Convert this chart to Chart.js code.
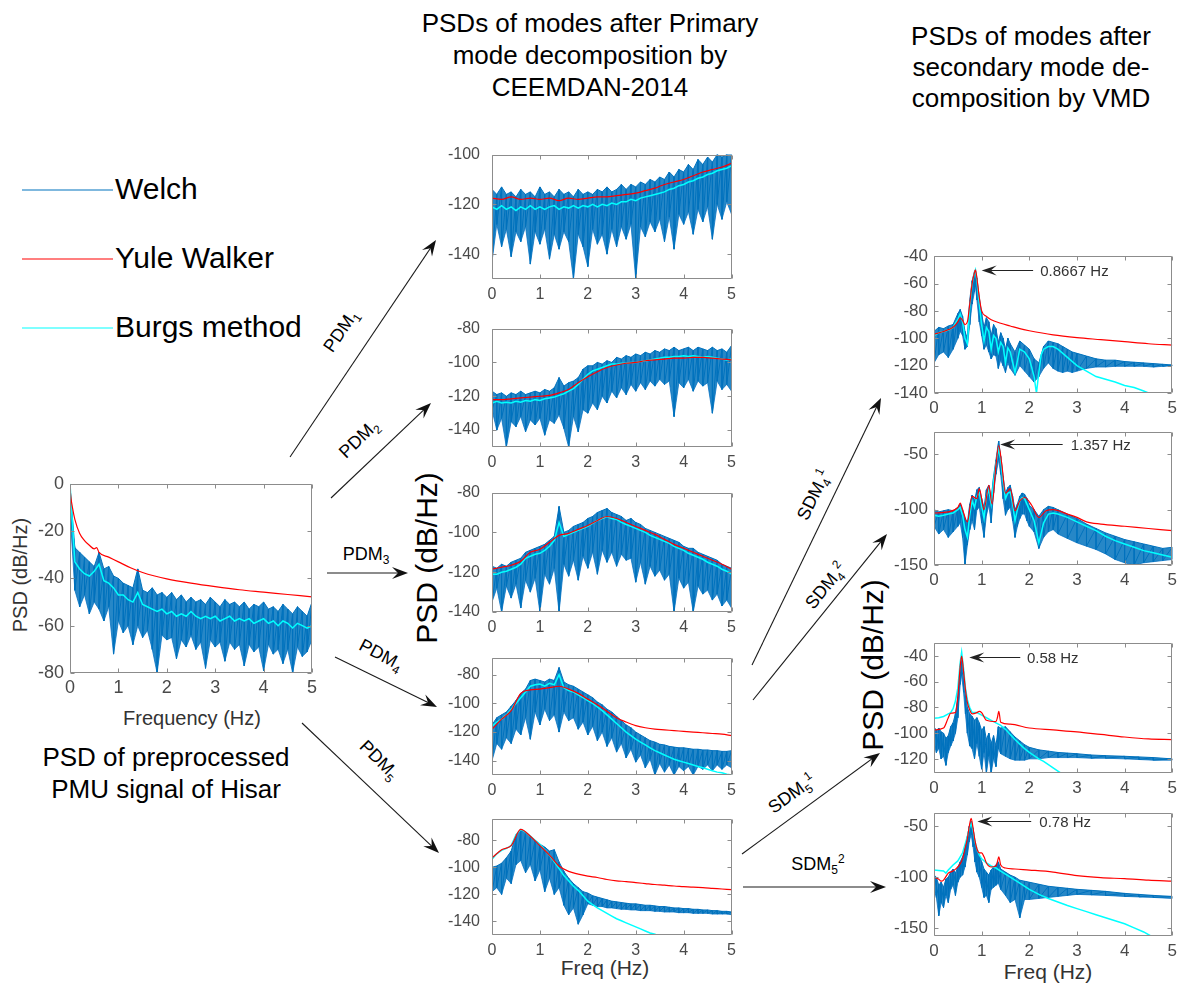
<!DOCTYPE html>
<html>
<head>
<meta charset="utf-8">
<script src="https://cdn.jsdelivr.net/npm/chart.js@4.4.1/dist/chart.umd.min.js"></script>
<style>
  body { margin: 0; width: 1181px; height: 983px; background: #fff; position: relative; overflow: hidden;
         font-family: "Liberation Sans", Arial, sans-serif; color: #000; }
  canvas { position: absolute; }
  .t { position: absolute; white-space: nowrap; }
  .c { text-align: center; }
  .rot { transform: translate(-50%, -50%) rotate(-90deg); }
  .lbl { position: absolute; font-size: 18px; white-space: nowrap; transform-origin: center; }
  .lbl sub, .lbl sup { font-size: 12px; line-height: 0; }
  svg { position: absolute; left: 0; top: 0; }
</style>
</head>
<body>

<div class="t c" style="left:390px;top:7px;width:400px;font-size:26px;line-height:32px;">PSDs of modes after Primary<br>mode decomposition by<br>CEEMDAN-2014</div>
<div class="t c" style="left:831px;top:21px;width:400px;font-size:26px;line-height:31px;">PSDs of modes after<br>secondary mode de-<br>composition by VMD</div>
<div class="t c" style="left:16px;top:741px;width:300px;font-size:26px;line-height:32px;">PSD of preprocessed<br>PMU signal of Hisar</div>

<div class="t" style="left:115px;top:172px;font-size:30px;line-height:34px;">Welch</div>
<div class="t" style="left:115px;top:241px;font-size:30px;line-height:34px;">Yule Walker</div>
<div class="t" style="left:115px;top:310px;font-size:30px;line-height:34px;">Burgs method</div>

<div class="t c" style="left:92px;top:707px;width:200px;font-size:20px;line-height:22px;color:#333;">Frequency (Hz)</div>
<div class="t rot" style="left:20px;top:575px;font-size:20px;color:#333;">PSD (dB/Hz)</div>
<div class="t rot" style="left:427px;top:558px;font-size:30px;">PSD (dB/Hz)</div>
<div class="t rot" style="left:873px;top:665px;font-size:30px;">PSD (dB/Hz)</div>
<div class="t c" style="left:505px;top:956px;width:200px;font-size:21px;line-height:24px;color:#333;">Freq (Hz)</div>
<div class="t c" style="left:948px;top:960px;width:200px;font-size:21px;line-height:24px;color:#333;">Freq (Hz)</div>

<svg id="overlay" width="1181" height="983"></svg>

<script>
// ---- data ----
const freqTicks = [0, 1, 2, 3, 4, 5];
const freqFine = [0,0.1,0.2,0.3,0.4,0.5,0.6,0.7,0.8,0.9,1.0,1.1,1.2,1.3,1.4,1.5,1.6,1.7,1.8,1.9,2.0,2.1,2.2,2.3,2.4,2.5,
                  2.6,2.7,2.8,2.9,3.0,3.1,3.2,3.3,3.4,3.5,3.6,3.7,3.8,3.9,4.0,4.1,4.2,4.3,4.4,4.5,4.6,4.7,4.8,4.9,5.0];
const freqCoarse = [0,0.2,0.4,0.6,0.8,1.0,1.2,1.4,1.6,1.8,2.0,2.2,2.4,2.6,2.8,3.0,3.2,3.4,3.6,3.8,4.0,4.2,4.4,4.6,4.8,5.0];

// preprocessed PMU signal
const leftYTicks = [-80, -60, -40, -20, 0];
const leftWelchHi = [-1, -27, -29, -31, -33, -35, -29, -36, -35, -39,
  -40, -42, -43, -44, -36, -45, -46, -44, -47, -46,
  -48, -46, -49, -47, -50, -48, -50, -49, -51, -48,
  -50, -52, -49, -51, -50, -52, -50, -53, -51, -52,
  -50, -53, -52, -54, -51, -53, -55, -52, -54, -56, -50];
const leftWelchLo = [-12, -45, -52, -47, -55, -50, -53, -58, -52, -72,
  -58, -63, -60, -68, -60, -65, -62, -70, -80, -64,
  -66, -65, -74, -66, -69, -64, -70, -67, -78, -66,
  -69, -67, -75, -67, -70, -68, -77, -68, -71, -69,
  -79, -68, -72, -70, -76, -70, -80, -69, -73, -71, -66];
const leftBurg = [0, -33, -36, -38, -39, -37, -34, -41, -42, -44,
  -47, -47, -49, -50, -46, -51, -52, -53, -54, -53,
  -55, -54, -56, -55, -56, -54, -56, -57, -56, -57,
  -56, -58, -57, -56, -58, -57, -58, -57, -59, -58,
  -57, -59, -58, -60, -58, -59, -61, -59, -60, -61, -60];
const leftYuleF = [0, 0.02, 0.05, 0.1, 0.2, 0.3, 0.4, 0.5, 0.55, 0.6, 0.8, 1, 1.25, 1.5, 1.75, 2, 2.5, 3, 3.5, 4, 4.5, 5];
const leftYule = [-2, -6, -10, -15, -21, -24, -26, -27.5, -27, -29, -31, -33, -35.5, -37.5, -39, -40.2, -42, -43.5, -44.8, -45.8, -46.8, -47.8];

// PDM1
const m1YTicks = [-140, -120, -100];
const m1WelchHi = [-114, -116, -113, -116, -115, -117, -114, -116, -115, -117,
  -113, -116, -115, -117, -114, -116, -115, -117, -114, -116,
  -115, -116, -114, -115, -113, -115, -114, -112, -114, -112,
  -113, -111, -112, -110, -111, -109, -110, -107, -109, -106,
  -107, -104, -106, -102, -104, -101, -103, -100, -101, -100, -100];
const m1WelchLo = [-143, -128, -137, -130, -141, -131, -135, -129, -144, -131,
  -136, -130, -142, -132, -138, -131, -135, -150, -132, -137,
  -145, -130, -136, -132, -140, -130, -137, -129, -134, -128,
  -150, -129, -133, -127, -131, -126, -135, -125, -138, -124,
  -128, -123, -132, -122, -127, -121, -134, -120, -126, -119, -124];
const m1Burg = [-121, -122, -120.5, -122, -121, -122.5, -121, -122, -120.5, -122,
  -121, -122, -121, -120.5, -122, -121, -121.5, -120.5, -121.5, -120.5,
  -121, -120, -121, -120, -120.5, -119.5, -120, -119, -119, -118,
  -118.5, -117.5, -117, -116.5, -116, -115.5, -115, -114, -113.5, -112.5,
  -112, -111, -110.5, -109.5, -109, -108, -107.5, -106.5, -106, -105.5, -104.5];
const m1Yule = [-117.5, -118, -117, -118, -117.5, -118, -117.5, -118.5, -117.5, -118,
  -117.5, -117, -117, -116.5, -116, -115.5, -114.5, -113.5, -112, -111,
  -110, -108.5, -107, -106, -105, -103.5];

// PDM2
const m2YTicks = [-140, -120, -100, -80];
const m2WelchHi = [-117, -119, -118, -120, -118, -119, -117, -119, -118, -117,
  -118, -116, -117, -115, -109, -114, -112, -111, -109, -104,
  -102, -102, -100, -101, -99, -100, -97, -98, -96, -97,
  -95, -96, -94, -95, -93, -94, -92, -93, -91, -93,
  -92, -91, -93, -91, -92, -93, -91, -93, -92, -94, -90];
const m2WelchLo = [-128, -140, -133, -150, -135, -138, -132, -141, -134, -137,
  -133, -143, -134, -136, -131, -139, -150, -132, -141, -128,
  -130, -124, -128, -120, -124, -117, -121, -115, -119, -113,
  -117, -112, -116, -111, -114, -110, -113, -111, -132, -112,
  -115, -110, -117, -111, -114, -112, -130, -111, -116, -113, -117];
const m2Burg = [-124, -123, -124, -123.5, -124, -123, -123.5, -122.5, -123, -122,
  -122.5, -121.5, -121, -120.5, -119.5, -118.5, -117, -115.5, -113, -110,
  -107, -105, -104, -103, -102, -101, -101, -100.5, -100.5, -100,
  -100, -99.5, -99, -98.5, -98, -97.5, -97, -97, -96.5, -96.5,
  -96, -96.5, -96, -96.5, -97, -96.5, -97, -97.5, -98, -98.5, -98];
const m2Yule = [-122, -122, -121.5, -121, -120.5, -120, -119.5, -118, -116, -112,
  -108.5, -105.5, -103, -101.5, -100.5, -100, -99, -98.5, -98, -97.5,
  -97.5, -97, -97, -97.5, -98, -98.5];

// PDM3
const m3YTicks = [-140, -120, -100, -80];
const m3WelchHi = [-117, -118, -116, -117, -115, -114, -113, -110, -109, -108,
  -107, -106, -104, -102, -87, -100, -99, -97, -96, -95,
  -93, -92, -90, -89, -88, -90, -91, -92, -94, -93,
  -95, -96, -98, -99, -100, -101, -102, -103, -104, -105,
  -107, -108, -108, -110, -111, -112, -113, -114, -116, -117, -118];
const m3WelchLo = [-135, -128, -140, -127, -133, -126, -138, -124, -130, -123,
  -140, -121, -126, -118, -140, -116, -122, -114, -124, -112,
  -118, -110, -121, -109, -115, -110, -117, -111, -114, -113,
  -125, -115, -126, -117, -122, -119, -124, -121, -140, -123,
  -128, -125, -140, -127, -131, -129, -134, -131, -137, -134, -138];
const m3Burg = [-121, -121, -120, -119.5, -118.5, -117.5, -116, -113, -112, -111,
  -110.5, -109, -107, -104, -95, -102, -101, -100, -99, -98,
  -97, -95.5, -94, -93, -92, -93, -93.5, -95, -96, -97,
  -98, -99, -100, -101.5, -102.5, -103.5, -104.5, -105.5, -107, -108,
  -109, -110.5, -111.5, -112.5, -113.5, -115, -116, -117, -118.5, -119.5, -121];
const m3Yule = [-118.5, -117.5, -116.5, -114.5, -110, -108.5, -105, -101.5, -100.5, -98.5,
  -96.5, -94, -92, -93, -95, -97, -99, -101, -103.5, -106,
  -108, -110, -112, -114, -116, -118.5];

// PDM4
const m4YTicks = [-140, -120, -100, -80];
const m4WelchHi = [-115, -110, -108, -106, -102, -98, -93, -90, -84, -83,
  -84, -85, -83, -84, -75, -85, -87, -88, -90, -92,
  -94, -96, -99, -101, -104, -106, -109, -112, -115, -117,
  -120, -122, -124, -126, -127, -128.5, -129, -130, -130.5, -131,
  -131, -131.5, -132, -132, -132.5, -132.5, -133, -133, -133.5, -133.5, -133];
const m4WelchLo = [-140, -128, -132, -124, -128, -118, -122, -110, -125, -106,
  -115, -104, -112, -108, -120, -106, -112, -110, -118, -113,
  -122, -116, -126, -120, -130, -124, -134, -128, -138, -132,
  -141, -136, -145, -139, -150, -142, -148, -143, -150, -144,
  -147, -144, -150, -144, -146, -143, -147, -143, -146, -143, -145];
const m4Burg = [-116, -113, -111, -108, -104, -100, -96, -92, -88, -87,
  -86.5, -88, -86, -87, -80, -89, -91, -92, -94, -96,
  -98, -100, -102.5, -105, -108, -111, -114, -117, -120, -122.5,
  -125, -127, -129, -131, -133, -134.5, -136, -137.5, -139, -140,
  -141, -142, -143, -144, -145, -146, -147, -148, -148.5, -149.5, -150];
const m4Yule = [-118, -111, -105, -93, -90.5, -90, -89, -88, -90, -93,
  -97, -101, -105.5, -110, -113, -115.5, -117, -118, -118.5, -119,
  -119.5, -120, -120.5, -121, -121.5, -122.5];

// PDM5
const m5YTicks = [-140, -120, -100, -80];
const m5WelchHi = [-100, -99, -97, -93, -88, -76, -73, -74, -77, -80,
  -83, -85, -88, -87, -96, -103, -108, -112, -115, -118,
  -119, -121, -122, -123, -124, -125, -125.5, -126, -126.5, -127,
  -127, -127.5, -128, -128, -128.5, -129, -129, -129.5, -130, -130,
  -130.5, -130.5, -131, -131, -131.5, -131.5, -132, -132, -132.5, -132.5, -133];
const m5WelchLo = [-118, -115, -120, -108, -112, -98, -95, -104, -98, -110,
  -102, -118, -108, -120, -115, -128, -135, -130, -142, -135,
  -127, -128, -129, -129, -130, -130, -130.5, -131, -131, -131.5,
  -131.5, -132, -132, -132, -132.5, -132.5, -133, -133, -133, -133.5,
  -133.5, -133.5, -134, -134, -134, -134, -134.5, -134.5, -134.5, -134.5, -135];
const m5Burg = [-94, -90, -87.5, -86, -84, -76, -72, -74, -77, -80,
  -83, -87, -91, -96, -101, -106, -110, -114, -117, -121,
  -125, -127.5, -130, -132, -134, -136, -138, -139.5, -141, -142.5,
  -144, -145.5, -147, -148.5, -149.5, -151];
const m5Yule = [-93, -87, -84, -72, -77, -84, -91, -99, -103, -105,
  -106.5, -107.5, -109, -110, -110.5, -111.3, -112, -112.7, -113.2, -113.8,
  -114.2, -114.7, -115, -115.5, -116, -116.5];

// SDM4^1
const r1YTicks = [-140, -120, -100, -80, -60, -40];
const r1WelchF = [0, 0.1, 0.2, 0.3, 0.4, 0.5, 0.55, 0.6, 0.65, 0.7,
  0.75, 0.8, 0.85, 0.87, 0.9, 0.95, 1.0, 1.05, 1.1, 1.15,
  1.2, 1.25, 1.3, 1.35, 1.4, 1.45, 1.5, 1.55, 1.6, 1.7,
  1.8, 1.9, 2.0, 2.1, 2.2, 2.3, 2.4, 2.5, 2.6, 2.7,
  2.8, 2.9, 3.0, 3.2, 3.4, 3.6, 3.8, 4.0, 4.2, 4.4, 4.6, 4.8, 5.0];
const r1WelchHi = [-95, -92, -93, -91, -90, -82, -79, -84, -95, -100,
  -72, -58, -51, -50, -56, -70, -82, -92, -85, -88,
  -98, -90, -93, -103, -96, -100, -108, -100, -104, -110,
  -102, -105, -108, -115, -118, -106, -102, -103, -104, -106,
  -108, -110, -111, -113, -115, -116, -116, -117, -117.5, -118, -118.5, -119, -119.5];
const r1WelchLo = [-118, -112, -110, -114, -108, -100, -95, -98, -108, -106,
  -90, -75, -66, -62, -72, -88, -98, -108, -105, -110,
  -115, -112, -113, -122, -116, -120, -125, -118, -122, -127,
  -120, -124, -128, -132, -128, -122, -118, -122, -124, -125,
  -124, -125, -124, -122, -121, -121, -120.5, -120.5, -120.5, -120.5, -121, -120.5, -120];
const r1BurgF = [0, 0.1, 0.2, 0.3, 0.4, 0.5, 0.55, 0.6, 0.65, 0.7,
  0.75, 0.8, 0.85, 0.87, 0.9, 0.95, 1.0, 1.05, 1.1, 1.15,
  1.2, 1.25, 1.3, 1.35, 1.4, 1.45, 1.5, 1.55, 1.6, 1.7,
  1.8, 1.9, 2.0, 2.1, 2.15, 2.2, 2.25, 2.3, 2.4, 2.5,
  2.6, 2.8, 3.0, 3.2, 3.4, 3.6, 3.8, 4.0, 4.2, 4.4, 4.5];
const r1Burg = [-98, -96, -95, -94, -92, -86, -82, -88, -100, -104,
  -78, -60, -52, -50, -58, -75, -90, -102, -92, -95,
  -108, -98, -100, -110, -103, -106, -118, -107, -110, -125,
  -108, -110, -115, -128, -140, -125, -112, -108, -106, -106,
  -108, -114, -120, -124, -128, -130, -132, -134.5, -136, -138.5, -140];
const r1YuleF = [0, 0.2, 0.4, 0.5, 0.55, 0.6, 0.65, 0.7, 0.75, 0.8, 0.85, 0.87, 0.9, 0.95,
  1.0, 1.1, 1.2, 1.4, 1.6, 1.8, 2.0, 2.5, 3.0, 3.5, 4.0, 4.5, 5.0];
const r1Yule = [-97, -95, -92, -88, -85, -87, -90, -88, -75, -60, -52, -50, -56, -70,
  -80, -84, -86.5, -89, -91, -93, -94.5, -97.5, -99.5, -101, -102.5, -104, -105];

// SDM4^2
const r2YTicks = [-150, -100, -50];
const r2F = [0, 0.1, 0.2, 0.3, 0.4, 0.5, 0.55, 0.6, 0.65, 0.7,
  0.75, 0.8, 0.85, 0.9, 0.95, 1.0, 1.05, 1.1, 1.15, 1.2,
  1.25, 1.3, 1.357, 1.4, 1.45, 1.5, 1.55, 1.6, 1.65, 1.7,
  1.75, 1.8, 1.85, 1.9, 1.95, 2.0, 2.1, 2.2, 2.3, 2.4,
  2.5, 2.6, 2.8, 3.0, 3.2, 3.4, 3.6, 3.8, 4.0, 4.2, 4.4, 4.6, 4.8, 5.0];
const r2WelchHi = [-100, -102, -101, -100, -101, -98, -95, -100, -108, -112,
  -95, -87, -92, -82, -80, -90, -98, -82, -78, -90,
  -70, -55, -38, -52, -70, -85, -80, -78, -88, -100,
  -95, -88, -85, -86, -90, -96, -100, -106, -100, -97,
  -98, -100, -104, -108, -113, -117, -121, -124, -127, -129, -131, -133, -135, -134];
const r2WelchLo = [-115, -122, -118, -125, -120, -115, -112, -125, -150, -132,
  -118, -110, -118, -100, -98, -112, -125, -105, -96, -112,
  -85, -68, -55, -68, -90, -105, -100, -98, -110, -125,
  -115, -108, -104, -104, -110, -115, -120, -135, -125, -120,
  -118, -122, -126, -130, -133, -136, -140, -145, -148, -150, -148, -147, -146, -145];
const r2Burg = [-105, -106, -105, -104, -103, -100, -98, -105, -118, -125,
  -105, -92, -98, -88, -85, -97, -108, -88, -82, -95,
  -75, -58, -45, -55, -75, -90, -85, -84, -95, -110,
  -100, -92, -89, -90, -95, -100, -110, -130, -112, -104,
  -103, -104, -107, -111, -115, -119, -124, -128, -131, -134, -137, -139, -141, -143];
const r2YuleF = [0, 0.3, 0.5, 0.55, 0.6, 0.7, 0.8, 0.9, 0.95, 1.05,
  1.15, 1.22, 1.3, 1.357, 1.42, 1.5, 1.6, 1.7, 1.8, 1.9,
  2.05, 2.2, 2.35, 2.5, 2.8, 3.0, 3.2, 3.5, 4.0, 4.5, 5.0];
const r2Yule = [-103, -102, -98, -94, -100, -111, -88, -90, -81, -100,
  -78, -95, -60, -42, -58, -85, -81, -101, -92, -89,
  -96, -107, -101, -100, -104, -107, -111, -113, -115, -117, -119];

// SDM5^1
const r3YTicks = [-120, -100, -80, -60, -40];
const r3WelchF = [0, 0.05, 0.1, 0.15, 0.2, 0.25, 0.3, 0.35, 0.4, 0.45,
  0.5, 0.55, 0.58, 0.62, 0.66, 0.7, 0.75, 0.8, 0.85, 0.9,
  0.95, 1.0, 1.05, 1.1, 1.15, 1.2, 1.25, 1.3, 1.35, 1.4,
  1.5, 1.6, 1.7, 1.8, 1.9, 2.0, 2.2, 2.4, 2.6, 2.8,
  3.0, 3.3, 3.6, 4.0, 4.3, 4.6, 5.0];
const r3WelchHi = [-95, -98, -96, -99, -100, -104, -102, -95, -92, -85,
  -72, -48, -40, -52, -68, -80, -85, -87, -90, -88,
  -92, -98, -95, -105, -100, -108, -102, -110, -95, -96,
  -95, -99, -103, -106, -109, -111, -113, -114, -115, -115.5,
  -116, -117, -117.5, -118, -118.5, -119, -120];
const r3WelchLo = [-108, -115, -112, -120, -118, -125, -115, -110, -106, -100,
  -88, -62, -55, -68, -85, -100, -110, -112, -120, -108,
  -118, -128, -115, -131, -118, -131, -120, -126, -112, -116,
  -118, -120, -121, -121, -121, -120, -120, -119, -119, -119,
  -119, -119.5, -119.5, -120, -120.5, -121, -121];
const r3BurgF = [0, 0.1, 0.2, 0.3, 0.35, 0.4, 0.45, 0.5, 0.55, 0.58,
  0.62, 0.66, 0.7, 0.75, 0.8, 0.9, 1.0, 1.1, 1.2, 1.3,
  1.4, 1.5, 1.6, 1.7, 1.8, 1.9, 2.0, 2.1, 2.2, 2.3,
  2.4, 2.5, 2.6, 2.7];
const r3Burg = [-88.5, -88, -87, -85, -84, -81, -75, -65, -45, -37,
  -50, -65, -74, -80, -84, -84, -86, -88, -90, -92,
  -94, -97, -101, -105, -108.5, -112, -115, -117.5, -120, -122,
  -124.5, -127, -129.5, -132];
const r3YuleF = [0, 0.2, 0.3, 0.35, 0.45, 0.5, 0.55, 0.58, 0.62, 0.66,
  0.7, 0.75, 0.8, 0.9, 0.95, 1.0, 1.1, 1.3, 1.33, 1.36,
  1.4, 1.6, 2.0, 2.5, 3.0, 3.5, 4.0, 4.5, 5.0];
const r3Yule = [-97.5, -96, -88, -84.5, -84, -72, -48, -40, -52, -66,
  -76, -82, -85, -84, -83, -84, -90, -91, -88, -83,
  -91.5, -93, -96, -97.5, -99, -101, -103, -104.5, -105];

// SDM5^2
const r4YTicks = [-150, -100, -50];
const r4WelchF = [0, 0.05, 0.1, 0.15, 0.2, 0.25, 0.3, 0.35, 0.4, 0.45,
  0.5, 0.55, 0.6, 0.65, 0.7, 0.74, 0.78, 0.82, 0.86, 0.9,
  0.95, 1.0, 1.05, 1.1, 1.15, 1.2, 1.25, 1.3, 1.35, 1.4,
  1.5, 1.6, 1.7, 1.8, 1.9, 2.0, 2.2, 2.4, 2.6, 2.8,
  3.0, 3.3, 3.6, 4.0, 4.3, 4.6, 5.0];
const r4WelchHi = [-98, -100, -108, -105, -110, -102, -100, -95, -92, -96,
  -90, -85, -80, -72, -60, -50, -45, -52, -65, -75,
  -78, -85, -92, -95, -98, -93, -90, -88, -85, -92,
  -95, -98, -100, -103, -104, -105, -107, -109, -110, -111,
  -112, -113, -114, -116, -117, -118, -119];
const r4WelchLo = [-112, -120, -138, -125, -130, -118, -125, -112, -108, -118,
  -105, -100, -98, -90, -78, -65, -58, -70, -85, -95,
  -100, -110, -120, -118, -125, -112, -110, -108, -106, -112,
  -118, -125, -122, -140, -122, -122, -121, -120, -119, -118,
  -117, -117.5, -118, -119, -119.5, -120, -121];
const r4BurgF = [0, 0.1, 0.2, 0.25, 0.3, 0.4, 0.5, 0.6, 0.65, 0.7,
  0.74, 0.78, 0.82, 0.86, 0.9, 0.95, 1.0, 1.1, 1.2, 1.3,
  1.4, 1.5, 1.6, 1.8, 2.0, 2.2, 2.4, 2.6, 2.8, 3.0,
  3.2, 3.4, 3.6, 3.8, 4.0, 4.2, 4.4, 4.55];
const r4Burg = [-93, -93.5, -94, -96, -93, -88, -84, -76, -68, -60,
  -52, -47, -54, -65, -72, -78, -82, -86, -89, -91,
  -94, -97, -100, -106, -112, -117, -121, -124.5, -128, -131,
  -134, -137, -140, -143, -146, -150, -154, -158];
const r4YuleF = [0, 0.1, 0.15, 0.2, 0.3, 0.4, 0.5, 0.6, 0.65, 0.7,
  0.74, 0.78, 0.82, 0.86, 0.9, 0.95, 1.0, 1.05, 1.1, 1.2,
  1.3, 1.33, 1.36, 1.4, 1.5, 1.7, 2.0, 2.5, 3.0, 3.5,
  4.0, 4.5, 5.0];
const r4Yule = [-100, -102, -104, -103, -96, -94, -90, -82, -72, -62,
  -50, -42, -52, -64, -72, -76, -76, -80, -86, -90,
  -89, -85, -80, -88, -91, -92, -93, -95, -98.5, -100.5,
  -101.5, -103, -104];

// ---- drawing ----
const FONT = '"Liberation Sans", Arial, sans-serif';
const WELCH = '#0072BD', WELCH_BAND = 'rgba(0, 114, 189, 0.85)', YULE = '#FF0000', BURG = '#00FFFF';
const FRAME = '#8c8c8c', TICK_TEXT = '#4a4a4a';

function series(f, v, color, order, width) {
  const pts = [];
  f.forEach((x, i) => { if (v[i] !== undefined) pts.push({ x: x, y: v[i] }); });
  return { data: pts, borderColor: color, borderWidth: width || 1.1, pointRadius: 0, tension: 0, order: order };
}

// Welch estimate: a band between the upper and lower envelope, with the raw
// min/max zigzag on top so the spikes read as noise
function welch(f, hi, lo) {
  const zig = [];
  f.forEach((x, i) => {
    zig.push({ x: x, y: hi[i] });
    zig.push({ x: x, y: lo[i] });
  });
  return [
    { data: zig, borderColor: WELCH, borderWidth: 1, borderJoinStyle: 'bevel', pointRadius: 0, tension: 0, order: 2 },
    { data: f.map((x, i) => ({ x: x, y: hi[i] })), borderColor: WELCH, borderWidth: 1, pointRadius: 0, tension: 0,
      fill: '+1', backgroundColor: WELCH_BAND, order: 3 },
    { data: f.map((x, i) => ({ x: x, y: lo[i] })), borderColor: '#3d8fd2', borderWidth: 1, pointRadius: 0, tension: 0, order: 4 }
  ];
}

// matlab style box with inward ticks, plus the peak call-outs
const matlabBox = {
  id: 'matlabBox',
  afterDatasetsDraw(chart, args, opts) {
    const { ctx, chartArea: a, scales } = chart;
    const L = Math.round(a.left) + 0.5, R = Math.round(a.right) - 0.5;
    const T = Math.round(a.top) + 0.5, B = Math.round(a.bottom) - 0.5;
    ctx.save();
    ctx.strokeStyle = FRAME;
    ctx.lineWidth = 1;
    ctx.beginPath();
    ctx.rect(L, T, R - L, B - T);
    scales.x.ticks.forEach(t => {
      const px = Math.round(scales.x.getPixelForValue(t.value)) + 0.5;
      ctx.moveTo(px, B); ctx.lineTo(px, B - 4);
      ctx.moveTo(px, T); ctx.lineTo(px, T + 4);
    });
    scales.y.ticks.forEach(t => {
      const py = Math.round(scales.y.getPixelForValue(t.value)) + 0.5;
      ctx.moveTo(L, py); ctx.lineTo(L + 4, py);
      ctx.moveTo(R, py); ctx.lineTo(R - 4, py);
    });
    ctx.stroke();

    const n = opts.note;
    if (n) {
      const tx = scales.x.getPixelForValue(n.x), ty = Math.round(scales.y.getPixelForValue(n.y)) + 0.5;
      const sx = scales.x.getPixelForValue(n.tailX);
      ctx.strokeStyle = '#222';
      ctx.fillStyle = '#222';
      ctx.beginPath();
      ctx.moveTo(sx, ty); ctx.lineTo(tx + 9, ty);
      ctx.stroke();
      ctx.beginPath();
      ctx.moveTo(tx, ty); ctx.lineTo(tx + 15, ty - 5); ctx.lineTo(tx + 9, ty); ctx.lineTo(tx + 15, ty + 5);
      ctx.closePath();
      ctx.fill();
      ctx.fillStyle = '#333';
      ctx.font = '15px ' + FONT;
      ctx.textBaseline = 'middle';
      ctx.fillText(n.text, scales.x.getPixelForValue(n.textX), ty + 1);
    }
    ctx.restore();
  }
};

function makePlot(p) {
  const yAxisW = 60, xAxisH = 28, padT = 6, padR = 5;
  const [l, t, r, b] = p.box;
  const canvas = document.createElement('canvas');
  canvas.width = (r - l) + yAxisW + padR;
  canvas.height = (b - t) + padT + xAxisH;
  canvas.style.left = (l - yAxisW) + 'px';
  canvas.style.top = (t - padT) + 'px';
  document.body.appendChild(canvas);

  const tickFont = { family: FONT, size: p.tickSize };
  new Chart(canvas.getContext('2d'), {
    type: 'line',
    data: { datasets: p.sets },
    options: {
      responsive: false,
      animation: false,
      events: [],
      layout: { padding: { top: padT, right: padR, left: 0, bottom: 0 } },
      plugins: {
        legend: { display: false },
        tooltip: { enabled: false },
        matlabBox: { note: p.note || null }
      },
      scales: {
        x: {
          type: 'linear', min: 0, max: 5,
          afterBuildTicks: s => { s.ticks = freqTicks.map(v => ({ value: v })); },
          afterFit: s => { s.height = xAxisH; },
          grid: { display: false, drawTicks: false },
          border: { display: false },
          ticks: { color: TICK_TEXT, font: tickFont, padding: p.xPad, maxRotation: 0, autoSkip: false,
                   callback: v => String(v) }
        },
        y: {
          type: 'linear', min: p.yMin, max: p.yMax,
          afterBuildTicks: s => { s.ticks = p.yTicks.map(v => ({ value: v })); },
          afterFit: s => { s.width = yAxisW; },
          grid: { display: false, drawTicks: false },
          border: { display: false },
          ticks: { color: TICK_TEXT, font: tickFont, padding: p.yPad, autoSkip: false,
                   callback: v => String(v) }
        }
      }
    },
    plugins: [matlabBox]
  });
}

const yuleSet = (f, v) => Object.assign(series(f, v, YULE, 0, 1.2), { cubicInterpolationMode: 'monotone' });
const burgSet = (f, v) => series(f, v, BURG, 1, 1.5);

makePlot({ box: [70, 473, 316, 673], yMin: -80, yMax: 0, yTicks: leftYTicks, tickSize: 18, xPad: 4, yPad: 6,
  sets: [yuleSet(leftYuleF, leftYule), burgSet(freqFine, leftBurg), ...welch(freqFine, leftWelchHi, leftWelchLo)] });

makePlot({ box: [492, 139, 737, 279], yMin: -150, yMax: -100, yTicks: m1YTicks, tickSize: 16, xPad: 6, yPad: 12,
  sets: [yuleSet(freqCoarse, m1Yule), burgSet(freqFine, m1Burg), ...welch(freqFine, m1WelchHi, m1WelchLo)] });
makePlot({ box: [492, 313, 737, 447], yMin: -150, yMax: -80, yTicks: m2YTicks, tickSize: 16, xPad: 6, yPad: 12,
  sets: [yuleSet(freqCoarse, m2Yule), burgSet(freqFine, m2Burg), ...welch(freqFine, m2WelchHi, m2WelchLo)] });
makePlot({ box: [492, 477, 737, 612], yMin: -140, yMax: -80, yTicks: m3YTicks, tickSize: 16, xPad: 6, yPad: 12,
  sets: [yuleSet(freqCoarse, m3Yule), burgSet(freqFine, m3Burg), ...welch(freqFine, m3WelchHi, m3WelchLo)] });
makePlot({ box: [492, 642, 737, 775], yMin: -150, yMax: -68, yTicks: m4YTicks, tickSize: 16, xPad: 6, yPad: 12,
  sets: [yuleSet(freqCoarse, m4Yule), burgSet(freqFine, m4Burg), ...welch(freqFine, m4WelchHi, m4WelchLo)] });
makePlot({ box: [492, 803, 737, 935], yMin: -150, yMax: -64, yTicks: m5YTicks, tickSize: 16, xPad: 6, yPad: 12,
  sets: [yuleSet(freqCoarse, m5Yule), burgSet(freqFine, m5Burg), ...welch(freqFine, m5WelchHi, m5WelchLo)] });

makePlot({ box: [934, 246, 1177, 393], yMin: -140, yMax: -40, yTicks: r1YTicks, tickSize: 17, xPad: 5, yPad: 6,
  note: { x: 1.0, y: -50, tailX: 2.08, textX: 2.23, text: '0.8667 Hz' },
  sets: [yuleSet(r1YuleF, r1Yule), burgSet(r1BurgF, r1Burg), ...welch(r1WelchF, r1WelchHi, r1WelchLo)] });
makePlot({ box: [934, 422, 1177, 565], yMin: -150, yMax: -30, yTicks: r2YTicks, tickSize: 17, xPad: 5, yPad: 6,
  note: { x: 1.39, y: -41, tailX: 2.7, textX: 2.87, text: '1.357 Hz' },
  sets: [yuleSet(r2YuleF, r2Yule), burgSet(r2F, r2Burg), ...welch(r2F, r2WelchHi, r2WelchLo)] });
makePlot({ box: [934, 633, 1177, 773], yMin: -131, yMax: -30, yTicks: r3YTicks, tickSize: 17, xPad: 5, yPad: 6,
  note: { x: 0.74, y: -41, tailX: 1.81, textX: 1.95, text: '0.58 Hz' },
  sets: [yuleSet(r3YuleF, r3Yule), burgSet(r3BurgF, r3Burg), ...welch(r3WelchF, r3WelchHi, r3WelchLo)] });
makePlot({ box: [934, 803, 1177, 936], yMin: -158, yMax: -37, yTicks: r4YTicks, tickSize: 17, xPad: 5, yPad: 6,
  note: { x: 0.91, y: -45, tailX: 2.04, textX: 2.21, text: '0.78 Hz' },
  sets: [yuleSet(r4YuleF, r4Yule), burgSet(r4BurgF, r4Burg), ...welch(r4WelchF, r4WelchHi, r4WelchLo)] });

// ---- legend swatches, flow arrows and their labels ----
const svg = document.getElementById('overlay');
const NS = 'http://www.w3.org/2000/svg';
function el(tag, attrs) {
  const e = document.createElementNS(NS, tag);
  for (const k in attrs) e.setAttribute(k, attrs[k]);
  svg.appendChild(e);
  return e;
}

[[190, WELCH], [259, YULE], [328, BURG]].forEach(([y, c]) => {
  el('line', { x1: 22, y1: y, x2: 113, y2: y, stroke: c, 'stroke-width': 1.2 });
});

const flowArrows = [
  [290, 457, 436, 240], [331, 498, 431, 403], [327, 573, 408, 573], [335, 657, 437, 707], [302, 723, 439, 853],
  [752, 665, 881, 398], [753, 700, 887, 534], [742, 854, 880, 753], [743, 887, 886, 887]
];
flowArrows.forEach(([x1, y1, x2, y2]) => {
  const ang = Math.atan2(y2 - y1, x2 - x1);
  const pt = (d, w) => (x2 - d * Math.cos(ang) - w * Math.sin(ang)).toFixed(1) + ',' +
                       (y2 - d * Math.sin(ang) + w * Math.cos(ang)).toFixed(1);
  const n = pt(10, 0).split(',');
  el('line', { x1: x1, y1: y1, x2: n[0], y2: n[1], stroke: '#1a1a1a', 'stroke-width': 1.1 });
  el('polygon', { points: [pt(0, 0), pt(16, 6), pt(10, 0), pt(16, -6)].join(' '), fill: '#111' });
});

const flowLabels = [
  ['PDM<sub>1</sub>', 341, 331, -56], ['PDM<sub>2</sub>', 359, 439, -44], ['PDM<sub>3</sub>', 366, 554, 0],
  ['PDM<sub>4</sub>', 381, 655, 28], ['PDM<sub>5</sub>', 379, 760, 45],
  ['SDM<sub>4</sub><sup>1</sup>', 814, 495, -64], ['SDM<sub>4</sub><sup>2</sup>', 826, 586, -51],
  ['SDM<sub>5</sub><sup>1</sup>', 792, 794, -36], ['SDM<sub>5</sub><sup>2</sup>', 818, 864, 0]
];
flowLabels.forEach(([html, x, y, a]) => {
  const d = document.createElement('div');
  d.className = 'lbl';
  d.innerHTML = html;
  d.style.left = x + 'px';
  d.style.top = y + 'px';
  d.style.transform = 'translate(-50%, -50%) rotate(' + a + 'deg)';
  document.body.appendChild(d);
});
</script>
</body>
</html>
